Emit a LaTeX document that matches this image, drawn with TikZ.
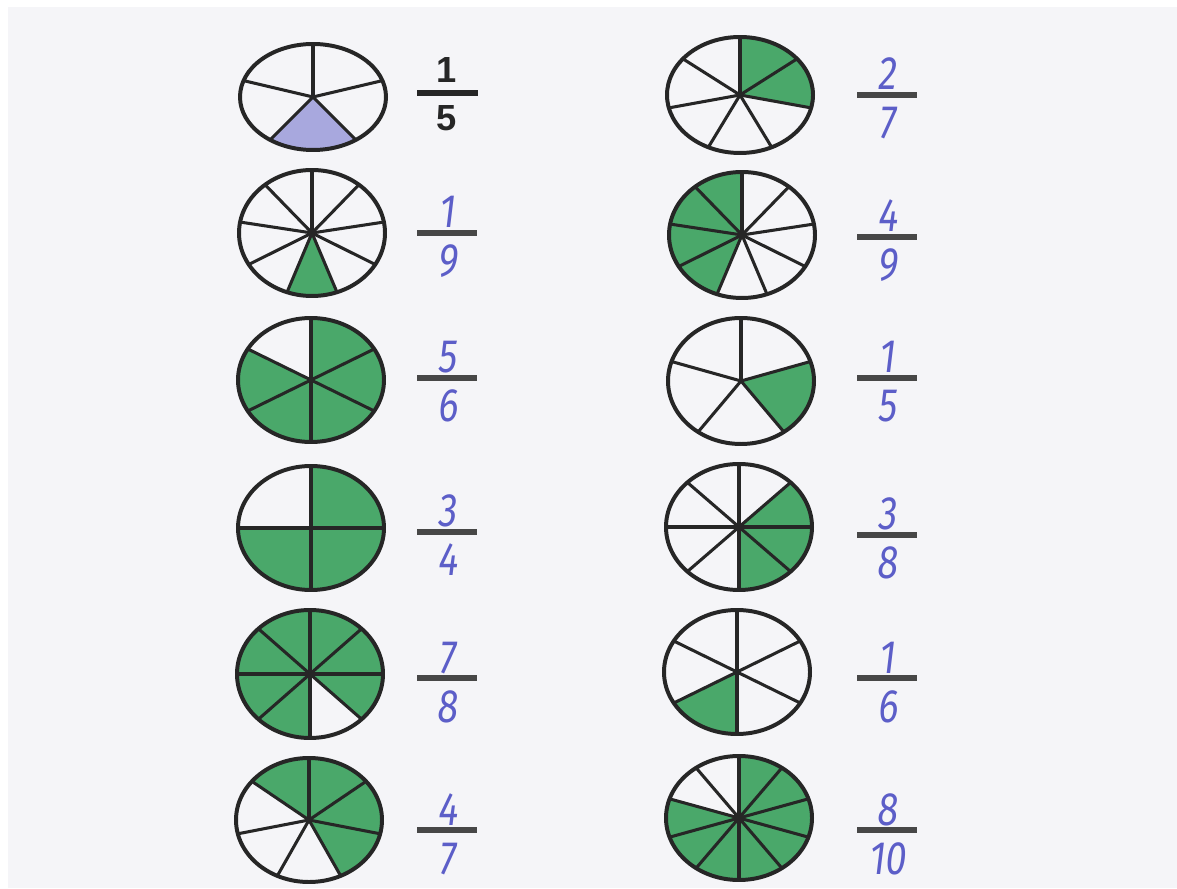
\documentclass[tikz,border=0pt]{standalone}
\usepackage{fontspec}
\newfontfamily\handfont{Fira Sans}[FakeStretch=0.8, FakeSlant=0.12]
\newfontfamily\printfont{Liberation Sans}
\definecolor{paper}{RGB}{245,245,248}
\definecolor{leaf}{RGB}{74,168,106}
\definecolor{lilac}{RGB}{168,168,222}
\definecolor{ink}{RGB}{38,38,38}
\definecolor{pen}{RGB}{92,94,200}
\tikzset{
  rim/.style={draw=ink, line width=3.4pt},
  spoke/.style={draw=ink, line width=2.6pt, line cap=round},
  fracbar/.style={draw=ink!85, line width=4.5pt},
  hand/.style={text=pen, font=\handfont\fontsize{40}{40}\selectfont, inner sep=0pt, anchor=base},
  printed/.style={text=ink, font=\printfont\bfseries\fontsize{31}{31}\selectfont, inner sep=0pt, anchor=base},
}
% centre x, centre y, y radius, parts, first spoke, shaded from, shaded to, colour
\newcommand{\piechart}[8]{%
  \fill[#8] (#1,#2) -- ++(#6:73 and #3) arc[start angle=#6, end angle=#7, x radius=73, y radius=#3] -- cycle;
  \foreach \k in {1,...,#4}
    \draw[spoke] (#1,#2) -- ++({#5+360/#4*\k}:73 and #3);
  \draw[rim] (#1,#2) ellipse[x radius=73, y radius=#3];
}
% name, x, bar y, numerator, denominator
\newcommand{\handfrac}[5]{%
  \draw[fracbar] (#2-30,#3) -- (#2+30,#3);
  \node[hand] (#1num) at (#2,#3+5) {#4};
  \node[hand] (#1den) at (#2,#3-44) {#5};
}
\begin{document}
\begin{tikzpicture}[x=0.03cm, y=0.03cm]
    \useasboundingbox (0,0) rectangle (1177,888);
    \fill[white] (0,0) rectangle (1177,888);
    \fill[paper] (8,0) rectangle (1177,881);

    \piechart{313}{791}{53}{5}{18}{234}{306}{lilac}
    \piechart{312}{655}{63}{9}{10}{250}{290}{leaf}
    \piechart{311}{508}{62}{6}{30}{150}{450}{leaf}
    \piechart{311}{360}{62}{4}{0}{180}{450}{leaf}
    \piechart{310}{214}{64}{8}{0}{315}{630}{leaf}
    \piechart{309}{68}{62}{7}{90}{-64.29}{141.43}{leaf}

    \piechart{740}{793}{58}{7}{90}{-12.86}{90}{leaf}
    \piechart{742}{653}{63}{9}{10}{90}{250}{leaf}
    \piechart{741}{507}{63}{5}{18}{-54}{18}{leaf}
    \piechart{739}{361}{63}{8}{0}{-90}{45}{leaf}
    \piechart{737}{216}{62}{6}{30}{210}{270}{leaf}
    \piechart{739}{70}{62}{10}{90}{162}{450}{leaf}

    \draw[fracbar, draw=ink] (417,795) -- (478,795);
    \node[printed] (fifthnum) at (447,805) {1};
    \node[printed] (fifthden) at (447,757) {5};
    \handfrac{ninth}{447}{655}{1}{9}
    \handfrac{sixths}{447}{510}{5}{6}
    \handfrac{quarters}{447}{356}{3}{4}
    \handfrac{eighths}{447}{210}{7}{8}
    \handfrac{sevenths}{447}{58}{4}{7}

    \handfrac{twosev}{887}{793}{2}{7}
    \handfrac{fourninth}{887}{651}{4}{9}
    \handfrac{onefifth}{887}{510}{1}{5}
    \handfrac{threeeig}{887}{353}{3}{8}
    \handfrac{onesixth}{887}{210}{1}{6}
    \handfrac{eightten}{887}{58}{8}{10}
\end{tikzpicture}
\end{document}
